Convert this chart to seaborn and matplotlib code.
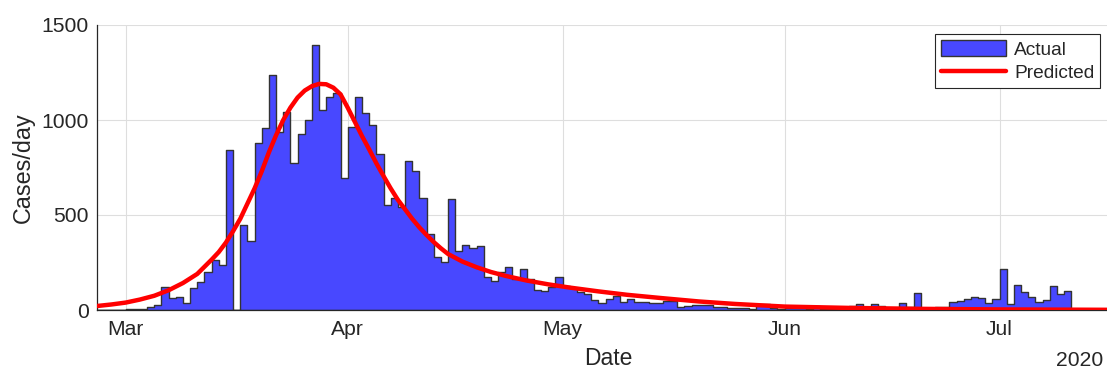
import numpy as np
import pandas as pd
import matplotlib
matplotlib.use('Agg')
import matplotlib.pyplot as plt
import matplotlib.dates as mdates
from matplotlib.patches import Patch
from matplotlib.lines import Line2D
import seaborn as sns

# ---- data (daily cases) ----
start_date = '2020-02-26'
feb_vals = [0, 1, 1, 2]                                   # Feb 26-29
mar_vals = [3, 4, 5, 18, 26, 123, 61, 67, 39, 114, 149, 202, 263, 237, 842, 0,
            447, 365, 877, 956, 1237, 938, 1044, 772, 926, 1000, 1394, 1052,
            1119, 1140, 696]                              # Mar 1-31
apr_vals = [965, 1123, 1035, 973, 821, 553, 588, 544, 784, 733, 591, 400, 281,
            254, 582, 312, 342, 324, 337, 172, 154, 202, 225, 161, 214, 161,
            105, 100, 120, 175]                           # Apr 1-30
may_vals = [125, 115, 95, 85, 55, 35, 60, 74, 44, 56, 44, 40, 35, 35, 45, 48,
            18, 20, 26, 28, 28, 18, 15, 9, 9, 10, 5, 32, 32, 8, 5]  # May 1-31
jun_vals = [12, 8, 8, 6, 23, 5, 6, 3, 5, 23, 33, 18, 32, 23, 3, 5, 35, 16, 91,
            2, 3, 14, 18, 42, 49, 56, 67, 65, 35, 58]     # Jun 1-30
jul_vals = [218, 31, 131, 93, 67, 44, 55, 126, 84, 101, 0, 0, 0, 0, 0]  # Jul 1-15

# predicted curve (read at selected dates)
curve_dates = ['2020-02-26', '2020-02-28', '2020-03-01', '2020-03-03', '2020-03-05',
               '2020-03-07', '2020-03-09', '2020-03-11', '2020-03-13', '2020-03-14',
               '2020-03-15', '2020-03-16', '2020-03-17', '2020-03-18', '2020-03-19',
               '2020-03-20', '2020-03-21', '2020-03-22', '2020-03-23', '2020-03-24',
               '2020-03-25', '2020-03-26', '2020-03-27', '2020-03-28', '2020-03-29',
               '2020-03-30', '2020-03-31', '2020-04-01', '2020-04-02', '2020-04-03',
               '2020-04-04', '2020-04-05', '2020-04-06', '2020-04-07', '2020-04-08',
               '2020-04-09', '2020-04-10', '2020-04-11', '2020-04-12', '2020-04-13',
               '2020-04-14', '2020-04-15', '2020-04-17', '2020-04-19', '2020-04-21',
               '2020-04-23', '2020-04-26', '2020-04-29', '2020-05-02', '2020-05-06',
               '2020-05-10', '2020-05-15', '2020-05-20', '2020-05-25', '2020-06-01',
               '2020-06-10', '2020-06-20', '2020-07-01', '2020-07-16']
curve_vals = [21, 29, 39, 55, 75, 104, 142, 190, 265, 305, 355, 415, 480, 560, 640,
              730, 830, 920, 1000, 1065, 1118, 1155, 1178, 1190, 1188, 1170, 1135,
              1065, 990, 915, 845, 772, 705, 640, 580, 530, 480, 435, 395, 358, 325,
              295, 255, 225, 200, 180, 155, 135, 118, 98, 80, 62, 45, 32, 18, 11, 6,
              3, 1]

month_ticks = ['2020-03-01', '2020-04-01', '2020-05-01', '2020-06-01', '2020-07-01']
ytick_vals = [0, 500, 1000, 1500]
x_start, x_end = '2020-02-26', '2020-07-16'

# ---- build ----
actual = feb_vals + mar_vals + apr_vals + may_vals + jun_vals + jul_vals
days = pd.date_range(start_date, periods=len(actual), freq='D')
d0 = float(mdates.date2num(pd.Timestamp(start_date)))
xcent = mdates.date2num(days) + 0.5
df = pd.DataFrame({'x': xcent, 'cases': actual})
cdf = pd.DataFrame({'x': mdates.date2num(pd.to_datetime(curve_dates)), 'pred': curve_vals})

sns.set_theme(style='white')
plt.rcParams['font.family'] = ['Liberation Sans', 'DejaVu Sans']

W, H = 1107, 371
fig = plt.figure(figsize=(W / 100, H / 100), dpi=100)
ax = fig.add_axes([97 / W, 1 - 310 / H, 1010 / W, 285 / H])

bar_color = '#4848ff'
edge_color = '#333333'
sns.histplot(data=df, x='x', weights='cases', binwidth=1,
             binrange=(d0, d0 + len(actual)), element='step', fill=True,
             facecolor=bar_color, edgecolor=edge_color, linewidth=1.0, alpha=1,
             ax=ax, zorder=2)
sns.lineplot(data=cdf, x='x', y='pred', color='red', linewidth=3.2, ax=ax, zorder=3)

ax.set_xlim(mdates.date2num(pd.Timestamp(x_start)), mdates.date2num(pd.Timestamp(x_end)))
ax.set_ylim(0, 1500)
ax.set_xticks(mdates.date2num(pd.to_datetime(month_ticks)))
ax.xaxis.set_major_formatter(mdates.DateFormatter('%b'))
ax.set_yticks(ytick_vals)

ax.set_axisbelow(True)
ax.grid(True, color='#dedede', linewidth=0.8)
for s in ['top', 'right']:
    ax.spines[s].set_visible(False)
for s in ['left', 'bottom']:
    ax.spines[s].set_color('#262626')
    ax.spines[s].set_linewidth(0.9)

ax.tick_params(axis='both', direction='in', length=7.5, width=0.8, colors='#262626',
               labelsize=15.2)
ax.tick_params(axis='x', pad=7)
ax.tick_params(axis='y', pad=6)

ax.set_xlabel('Date', fontsize=16.5, color='#262626', labelpad=4)
ax.xaxis.set_label_coords((608 - 97) / 1010, -0.13)
ax.xaxis.label.set_va('top')
ax.set_ylabel('Cases/day', fontsize=16.8, color='#262626', labelpad=4.5)

fig.text(1103 / W, 1 - 366 / H, '2020', ha='right', va='baseline', fontsize=15.2,
         color='#262626')

handles = [Patch(facecolor=bar_color, edgecolor=edge_color, linewidth=1.0),
           Line2D([0], [0], color='red', linewidth=3.2)]
leg = ax.legend(handles, ['Actual', 'Predicted'], loc='upper right',
                bbox_to_anchor=((1100 - 97) / 1010, (310 - 34) / 285),
                fontsize=13.8, frameon=True, fancybox=False, framealpha=1,
                edgecolor='#262626', handlelength=3.4, handleheight=0.95,
                borderpad=0.3, labelspacing=0.25, handletextpad=0.4,
                borderaxespad=0)
leg.get_frame().set_linewidth(0.8)
for t in leg.get_texts():
    t.set_color('#262626')

fig.savefig('out.png', dpi=100)
